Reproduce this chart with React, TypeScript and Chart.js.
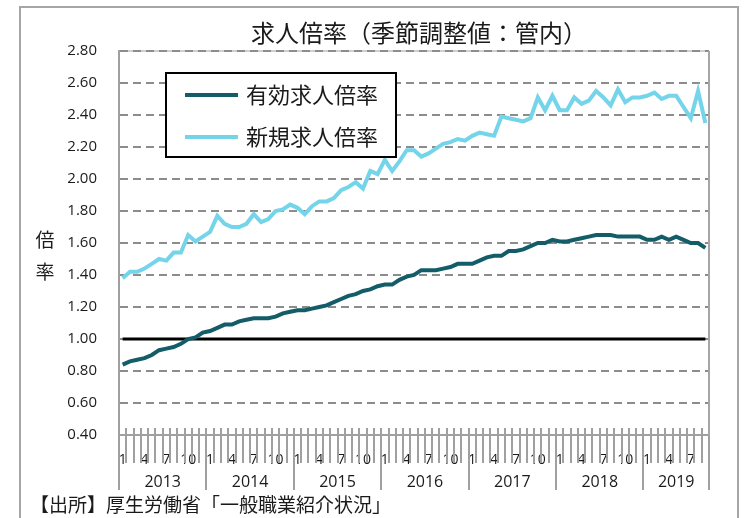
import { useEffect, useRef } from "react";
import { Chart, registerables } from "chart.js";

Chart.register(...registerables);

const chartTitle = "求人倍率（季節調整値：管内）";
const yAxisTitle = ["倍", "率"];
const sourceNote = "【出所】厚生労働省「一般職業紹介状況」";
const seriesNames = ["有効求人倍率", "新規求人倍率"];

const years = ["2013", "2014", "2015", "2016", "2017", "2018", "2019"];
const monthsInYear = [12, 12, 12, 12, 12, 12, 9];
const shownMonths = [1, 4, 7, 10];

const yMin = 0.4;
const yMax = 2.8;
const yStep = 0.2;
const baseLineValue = 1.0;

// 有効求人倍率 (2013/1 – 2019/9)
const effectiveRatio = [
  0.84, 0.86, 0.87, 0.88, 0.9, 0.93, 0.94, 0.95, 0.97, 1.0, 1.01, 1.04,
  1.05, 1.07, 1.09, 1.09, 1.11, 1.12, 1.13, 1.13, 1.13, 1.14, 1.16, 1.17,
  1.18, 1.18, 1.19, 1.2, 1.21, 1.23, 1.25, 1.27, 1.28, 1.3, 1.31, 1.33,
  1.34, 1.34, 1.37, 1.39, 1.4, 1.43, 1.43, 1.43, 1.44, 1.45, 1.47, 1.47,
  1.47, 1.49, 1.51, 1.52, 1.52, 1.55, 1.55, 1.56, 1.58, 1.6, 1.6, 1.62,
  1.61, 1.61, 1.62, 1.63, 1.64, 1.65, 1.65, 1.65, 1.64, 1.64, 1.64, 1.64,
  1.62, 1.62, 1.64, 1.62, 1.64, 1.62, 1.6, 1.6, 1.57,
];

// 新規求人倍率 (2013/1 – 2019/9)
const newRatio = [
  1.38, 1.42, 1.42, 1.44, 1.47, 1.5, 1.49, 1.54, 1.54, 1.65, 1.61, 1.64,
  1.67, 1.77, 1.72, 1.7, 1.7, 1.72, 1.78, 1.73, 1.75, 1.8, 1.81, 1.84,
  1.82, 1.78, 1.83, 1.86, 1.86, 1.88, 1.93, 1.95, 1.98, 1.94, 2.05, 2.03,
  2.12, 2.05, 2.11, 2.18, 2.18, 2.14, 2.16, 2.19, 2.22, 2.23, 2.25, 2.24,
  2.27, 2.29, 2.28, 2.27, 2.39, 2.38, 2.37, 2.36, 2.38, 2.51, 2.43, 2.52,
  2.43, 2.43, 2.51, 2.47, 2.49, 2.55, 2.51, 2.46, 2.56, 2.48, 2.51, 2.51,
  2.52, 2.54, 2.5, 2.52, 2.52, 2.45, 2.38, 2.55, 2.35,
];

const seriesColors = ["#135d68", "#74d4ea"];
const baseLineColor = "#000000";

const categories: string[] = [];
const monthOfCategory: number[] = [];
years.forEach((y, yi) => {
  for (let m = 1; m <= monthsInYear[yi]; m++) {
    categories.push(`${y}/${m}`);
    monthOfCategory.push(m);
  }
});

const JP = '"Noto Sans CJK JP", "Noto Sans", sans-serif';
const NUM = '"Open Sans", "Noto Sans", sans-serif';

function strokeSeg(ctx: CanvasRenderingContext2D, x1: number, y1: number, x2: number, y2: number) {
  ctx.beginPath();
  ctx.moveTo(x1, y1);
  ctx.lineTo(x2, y2);
  ctx.stroke();
}

const decorPlugin = {
  id: "decor",
  beforeDraw(chart: any) {
    const ctx: CanvasRenderingContext2D = chart.ctx;
    const ca = chart.chartArea;
    ctx.save();
    ctx.setLineDash([]);
    ctx.globalAlpha = 1;
    // outer frame
    ctx.strokeStyle = "#a6a6a6";
    ctx.lineWidth = 2;
    ctx.beginPath();
    ctx.moveTo(20, 530);
    ctx.lineTo(20, 7);
    ctx.lineTo(738, 7);
    ctx.lineTo(738, 530);
    ctx.stroke();
    // light top border of plot
    ctx.strokeStyle = "#cfcfcf";
    strokeSeg(ctx, ca.left, ca.top, ca.right, ca.top);
    ctx.restore();
  },
  afterDatasetsDraw(chart: any) {
    const ctx: CanvasRenderingContext2D = chart.ctx;
    const ca = chart.chartArea;
    const xs = chart.scales.x;
    const n = categories.length;
    const half = (xs.getPixelForValue(1) - xs.getPixelForValue(0)) / 2;
    const boundary = (i: number) =>
      i < n ? xs.getPixelForValue(i) - half : xs.getPixelForValue(n - 1) + half;

    ctx.save();
    ctx.setLineDash([]);
    ctx.globalAlpha = 1;
    ctx.globalCompositeOperation = "source-over";
    ctx.strokeStyle = "#a0a0a0";
    ctx.lineWidth = 2;
    // month ticks crossing the axis
    for (let i = 0; i <= n; i++) {
      const bx = Math.round(boundary(i));
      strokeSeg(ctx, bx, ca.bottom - 7, bx, ca.bottom + 28);
    }
    // year separators
    let start = 0;
    const yearCenters: number[] = [];
    for (let yi = 0; yi <= years.length; yi++) {
      const bx = Math.round(boundary(start));
      strokeSeg(ctx, bx, ca.bottom, bx, ca.bottom + 55);
      if (yi < years.length) {
        const end = start + monthsInYear[yi];
        yearCenters.push((boundary(start) + boundary(end)) / 2);
        start = end;
      }
    }
    // right plot border
    ctx.strokeStyle = "#a6a6a6";
    strokeSeg(ctx, Math.round(ca.right), ca.top, Math.round(ca.right), ca.bottom);

    ctx.fillStyle = "#1a1a1a";
    ctx.textAlign = "center";
    ctx.textBaseline = "middle";
    ctx.font = `16px ${NUM}`;
    years.forEach((y, yi) => ctx.fillText(y, yearCenters[yi], ca.bottom + 47));

    // title
    ctx.font = `24px ${JP}`;
    ctx.fillText(chartTitle, 419, 33);
    // y axis title
    ctx.font = `19px ${JP}`;
    ctx.fillText(yAxisTitle[0], 45, 240);
    ctx.fillText(yAxisTitle[1], 45, 272);
    // source
    ctx.textAlign = "left";
    ctx.font = `19px ${JP}`;
    ctx.fillText(sourceNote, 30, 505);

    // legend
    const lx = 166, ly = 73, lw = 230, lh = 84;
    ctx.fillStyle = "#ffffff";
    ctx.fillRect(lx, ly, lw, lh);
    ctx.strokeStyle = "#000000";
    ctx.lineWidth = 2;
    ctx.strokeRect(lx, ly, lw, lh);
    const rows = [95, 137];
    seriesNames.forEach((name, i) => {
      ctx.strokeStyle = seriesColors[i];
      ctx.lineWidth = 4;
      strokeSeg(ctx, 185, rows[i], 238, rows[i]);
      ctx.fillStyle = "#1a1a1a";
      ctx.font = `22px ${JP}`;
      ctx.textAlign = "left";
      ctx.fillText(name, 246, rows[i]);
    });
    ctx.restore();
  },
};

export default function App() {
  const ref = useRef<HTMLCanvasElement | null>(null);

  useEffect(() => {
    if (!ref.current) return;
    const chart = new Chart(ref.current, {
      type: "line",
      data: {
        labels: categories,
        datasets: [
          {
            label: seriesNames[0],
            data: effectiveRatio,
            borderColor: seriesColors[0],
            borderWidth: 4,
            pointRadius: 0,
            tension: 0,
            order: 1,
          },
          {
            label: seriesNames[1],
            data: newRatio,
            borderColor: seriesColors[1],
            borderWidth: 4,
            pointRadius: 0,
            tension: 0,
            order: 2,
          },
          {
            label: "base",
            data: categories.map(() => baseLineValue),
            borderColor: baseLineColor,
            borderWidth: 3,
            pointRadius: 0,
            tension: 0,
            order: 3,
          },
        ],
      },
      options: {
        responsive: false,
        animation: false,
        layout: { padding: { left: 0, top: 51, right: 39, bottom: 0 } },
        plugins: {
          legend: { display: false },
          title: { display: false },
          tooltip: { enabled: false },
        },
        scales: {
          x: {
            type: "category",
            offset: true,
            grid: { display: false, offset: true },
            border: { display: true, color: "#a0a0a0", width: 2 },
            ticks: {
              autoSkip: false,
              maxRotation: 0,
              minRotation: 0,
              padding: 9,
              color: "#1a1a1a",
              font: { family: NUM, size: 14 },
              callback: (_v: any, i: number) =>
                shownMonths.includes(monthOfCategory[i]) ? String(monthOfCategory[i]) : "",
            },
            afterFit: (s: any) => {
              s.height = 83;
            },
          },
          y: {
            min: yMin,
            max: yMax,
            grid: { color: "#8c8c8c", lineWidth: 2, drawTicks: false },
            border: { display: true, color: "#a0a0a0", width: 2, dash: [8, 5] },
            ticks: {
              stepSize: yStep,
              padding: 22,
              color: "#1a1a1a",
              font: { family: NUM, size: 15 },
              callback: (v: any) => Number(v).toFixed(2),
            },
            afterFit: (s: any) => {
              s.width = 119;
            },
          },
        },
      },
      plugins: [decorPlugin],
    });
    return () => chart.destroy();
  }, []);

  return (
    <div style={{ position: "fixed", left: 0, top: 0, width: 748, height: 518, background: "#fff" }}>
      <canvas ref={ref} width={748} height={518} style={{ width: 748, height: 518 }} />
    </div>
  );
}
